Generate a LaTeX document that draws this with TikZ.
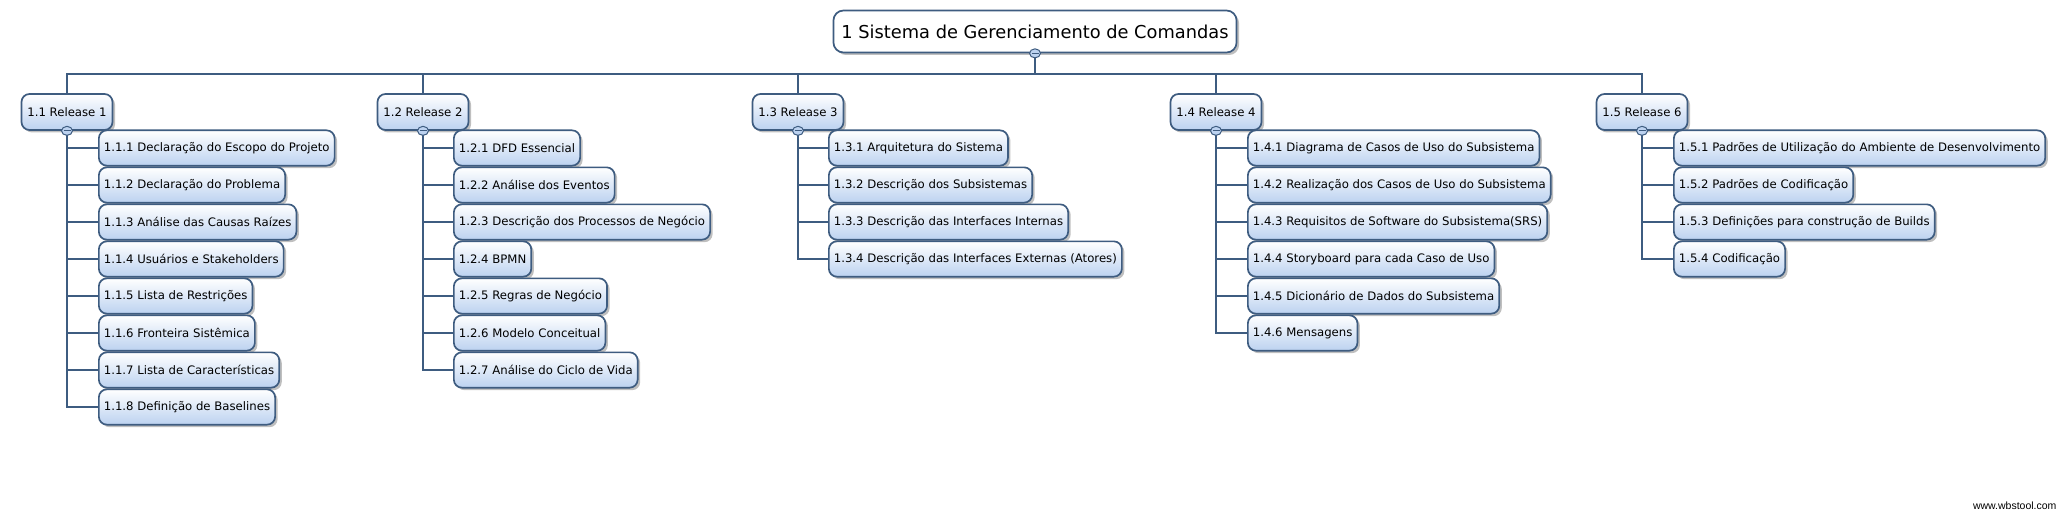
\documentclass[tikz,border=0pt]{standalone}
\usepackage{fontspec}
\setmainfont{DejaVu Sans}
\newfontfamily\wmfont{Liberation Sans}
\usetikzlibrary{positioning,shapes.geometric,shadows}

\definecolor{wbsline}{RGB}{62,92,128}
\definecolor{wbsfill}{RGB}{188,210,240}

\begin{document}
\begin{tikzpicture}[
    x=1pt, y=-1pt,
    node distance=0pt,
    every node/.style={font=\fontsize{11.7}{14}\selectfont},
    % Basis voor alle WBS-blokken
    wbsbox/.style={rectangle, rounded corners=8pt, draw=wbsline, line width=1.7pt,
                   top color=white, bottom color=wbsfill, inner xsep=5pt,
                   drop shadow={shadow xshift=2.5pt, shadow yshift=-2.5pt, fill=black!50}},
    % Hoofdblok bovenaan
    rootbox/.style={wbsbox, rounded corners=10pt, minimum height=42pt, inner xsep=8pt,
                    top color=white, bottom color=white,
                    font=\fontsize{17.8}{21}\selectfont},
    % Releases (tweede niveau)
    release/.style={wbsbox, minimum height=36pt, minimum width=91pt},
    % Werkpakketten (derde niveau)
    leaf/.style={wbsbox, minimum height=35.3pt, anchor=west},
    link/.style={draw=wbsline, line width=2pt},
    toggle/.style={ellipse, draw=wbsline, line width=1pt, fill=wbsfill,
                   minimum width=11pt, minimum height=9pt, inner sep=0pt,
                   path picture={\draw[wbsline, line width=1.3pt]
                     ([xshift=-3.5pt]path picture bounding box.center) --
                     ([xshift=3.5pt]path picture bounding box.center);}}
]
\useasboundingbox (0,0) rectangle (2068,524);

% --- Hoofdblok ---
\node[rootbox] (root) at (1035,31.5) {1 Sistema de Gerenciamento de Comandas};

% --- Releases ---
\node[release] (r1) at (67,112) {1.1 Release 1};
\node[release] (r2) at (423,112) {1.2 Release 2};
\node[release] (r3) at (798,112) {1.3 Release 3};
\node[release] (r4) at (1216,112) {1.4 Release 4};
\node[release] (r5) at (1642,112) {1.5 Release 6};

% --- Release 1 ---
\node[leaf] (c11) at (98,148) {1.1.1 Declaração do Escopo do Projeto};
\node[leaf, below=of c11.south west, anchor=north west] (c12) {1.1.2 Declaração do Problema};
\node[leaf, below=of c12.south west, anchor=north west] (c13) {1.1.3 Análise das Causas Raízes};
\node[leaf, below=of c13.south west, anchor=north west] (c14) {1.1.4 Usuários e Stakeholders};
\node[leaf, below=of c14.south west, anchor=north west] (c15) {1.1.5 Lista de Restrições};
\node[leaf, below=of c15.south west, anchor=north west] (c16) {1.1.6 Fronteira Sistêmica};
\node[leaf, below=of c16.south west, anchor=north west] (c17) {1.1.7 Lista de Características};
\node[leaf, below=of c17.south west, anchor=north west] (c18) {1.1.8 Definição de Baselines};

% --- Release 2 ---
\node[leaf] (c21) at (453,148) {1.2.1 DFD Essencial};
\node[leaf, below=of c21.south west, anchor=north west] (c22) {1.2.2 Análise dos Eventos};
\node[leaf, below=of c22.south west, anchor=north west] (c23) {1.2.3 Descrição dos Processos de Negócio};
\node[leaf, below=of c23.south west, anchor=north west] (c24) {1.2.4 BPMN};
\node[leaf, below=of c24.south west, anchor=north west] (c25) {1.2.5 Regras de Negócio};
\node[leaf, below=of c25.south west, anchor=north west] (c26) {1.2.6 Modelo Conceitual};
\node[leaf, below=of c26.south west, anchor=north west] (c27) {1.2.7 Análise do Ciclo de Vida};

% --- Release 3 ---
\node[leaf] (c31) at (828,148) {1.3.1 Arquitetura do Sistema};
\node[leaf, below=of c31.south west, anchor=north west] (c32) {1.3.2 Descrição dos Subsistemas};
\node[leaf, below=of c32.south west, anchor=north west] (c33) {1.3.3 Descrição das Interfaces Internas};
\node[leaf, below=of c33.south west, anchor=north west] (c34) {1.3.4 Descrição das Interfaces Externas (Atores)};

% --- Release 4 ---
\node[leaf] (c41) at (1247,148) {1.4.1 Diagrama de Casos de Uso do Subsistema};
\node[leaf, below=of c41.south west, anchor=north west] (c42) {1.4.2 Realização dos Casos de Uso do Subsistema};
\node[leaf, below=of c42.south west, anchor=north west] (c43) {1.4.3 Requisitos de Software do Subsistema(SRS)};
\node[leaf, below=of c43.south west, anchor=north west] (c44) {1.4.4 Storyboard para cada Caso de Uso};
\node[leaf, below=of c44.south west, anchor=north west] (c45) {1.4.5 Dicionário de Dados do Subsistema};
\node[leaf, below=of c45.south west, anchor=north west] (c46) {1.4.6 Mensagens};

% --- Release 6 ---
\node[leaf] (c51) at (1673,148) {1.5.1 Padrões de Utilização do Ambiente de Desenvolvimento};
\node[leaf, below=of c51.south west, anchor=north west] (c52) {1.5.2 Padrões de Codificação};
\node[leaf, below=of c52.south west, anchor=north west] (c53) {1.5.3 Definições para construção de Builds};
\node[leaf, below=of c53.south west, anchor=north west] (c54) {1.5.4 Codificação};

% --- Verbindingen ---
\foreach \r in {r1,r2,r3,r4,r5}
  \draw[link] (root.south) -- ++(0,21) -| (\r.north);
\foreach \c in {c11,c12,c13,c14,c15,c16,c17,c18}
  \draw[link] (r1.south) |- (\c.west);
\foreach \c in {c21,c22,c23,c24,c25,c26,c27}
  \draw[link] (r2.south) |- (\c.west);
\foreach \c in {c31,c32,c33,c34}
  \draw[link] (r3.south) |- (\c.west);
\foreach \c in {c41,c42,c43,c44,c45,c46}
  \draw[link] (r4.south) |- (\c.west);
\foreach \c in {c51,c52,c53,c54}
  \draw[link] (r5.south) |- (\c.west);

% --- Inklapknoppen ---
\node[toggle] (t0) at (root.south) {};
\foreach \r in {r1,r2,r3,r4,r5}
  \node[toggle] (t\r) at (\r.south) {};

\node[font=\wmfont\fontsize{10.5}{12}\selectfont, anchor=east] (wm) at (2060,506) {www.wbstool.com};
\end{tikzpicture}
\end{document}
